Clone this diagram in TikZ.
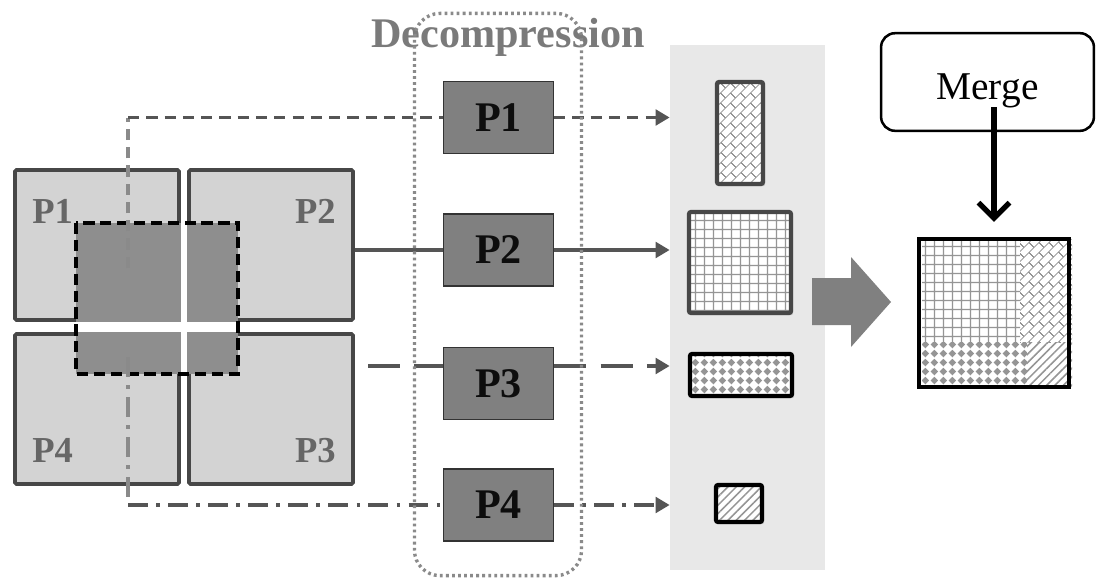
\documentclass[tikz,border=0pt]{standalone}
\usepackage{fontspec}
\setmainfont{Liberation Serif}
\usetikzlibrary{arrows.meta,calc,patterns,patterns.meta,shadows}

\definecolor{quadgray}{HTML}{D3D3D3}
\definecolor{quadline}{HTML}{474747}
\definecolor{overlap}{HTML}{8E8E8E}
\definecolor{partgray}{HTML}{808080}
\definecolor{linegray}{HTML}{555555}
\definecolor{tracegray}{HTML}{8A8A8A}
\definecolor{labelgray}{HTML}{666666}
\definecolor{titlegray}{HTML}{7A7A7A}
\definecolor{bufgray}{HTML}{E8E8E8}
\definecolor{patgray}{HTML}{959595}

\tikzdeclarepattern{
  name=sqgrid,
  type=uncolored,
  bottom left={(0pt,0pt)},
  top right={(6.3pt,6.3pt)},
  tile size={(6.3pt,6.3pt)},
  code={
    \draw[line width=.9pt] (0pt,3.15pt) -- (6.3pt,3.15pt) (3.15pt,0pt) -- (3.15pt,6.3pt);
  }
}
\tikzdeclarepattern{
  name=diagbricks,
  type=uncolored,
  bottom left={(0pt,0pt)},
  top right={(10pt,10pt)},
  tile size={(10pt,10pt)},
  tile transformation={rotate=45},
  code={
    \draw[line width=.6pt] (0pt,2.5pt) -- (10pt,2.5pt) (0pt,7.5pt) -- (10pt,7.5pt)
      (2.5pt,2.5pt) -- (2.5pt,7.5pt) (7.5pt,7.5pt) -- (7.5pt,10pt) (7.5pt,0pt) -- (7.5pt,2.5pt);
  }
}
\tikzdeclarepattern{
  name=stardots,
  type=uncolored,
  bottom left={(0pt,0pt)},
  top right={(6.3pt,6.3pt)},
  tile size={(6.3pt,6.3pt)},
  code={
    \fill (3.15pt,3.15pt) circle (1.7pt);
    \fill (3.15pt,.45pt) -- (5.85pt,3.15pt) -- (3.15pt,5.85pt) -- (.45pt,3.15pt) -- cycle;
  }
}

\tikzstyle{quad} = [draw=quadline, fill=quadgray, line width=2.6pt, rounded corners=1pt, minimum width=4.1cm, minimum height=3.75cm, inner sep=0pt]
\tikzstyle{qlabel} = [text=labelgray, font=\fontsize{26}{26}\selectfont\bfseries, inner sep=0pt]
\tikzstyle{overlapbox} = [draw=black, line width=2.4pt, dash pattern=on 8pt off 4pt]
\tikzstyle{part} = [draw=black!80, fill=partgray, line width=1.1pt, minimum width=2.74cm, minimum height=1.79cm, font=\fontsize{30}{30}\selectfont\bfseries, text=black!95, inner sep=0pt]
\tikzstyle{title} = [text=titlegray, font=\fontsize{30}{30}\selectfont\bfseries, inner sep=0pt]
\tikzstyle{decomp} = [draw=tracegray, line width=2.4pt, dash pattern=on 2pt off 2.3pt, rounded corners=18pt, minimum width=4.175cm, minimum height=14.05cm, inner sep=0pt]
\tikzstyle{buffer} = [fill=bufgray, minimum width=3.875cm, minimum height=13.125cm, inner sep=0pt]
\tikzstyle{patch} = [line width=3pt, rounded corners=1.5pt, inner sep=0pt, pattern color=patgray, drop shadow={shadow xshift=1.5pt, shadow yshift=-1.5pt, opacity=.3}, preaction={fill=white}]
\tikzstyle{flow} = [draw=linegray, line width=2.5pt]
\tikzstyle{trace} = [draw=tracegray, line width=2.3pt]
\tikzstyle{flowtip} = [-{Triangle[length=10pt,width=11pt]}]
\tikzstyle{dashes} = [dash pattern=on 8pt off 5pt]
\tikzstyle{longdashes} = [dash pattern=on 23pt off 10pt]
\tikzstyle{dashdots} = [dash pattern=on 14pt off 6pt on 2.5pt off 6pt]
\tikzstyle{bigarrow} = [fill=partgray]
\tikzstyle{mergebox} = [draw=black, line width=1.8pt, rounded corners=10pt, minimum width=5.32cm, minimum height=2.44cm, font=\fontsize{28}{28}\selectfont, inner sep=0pt]
\tikzstyle{mergearrow} = [draw=black, line width=3.8pt, -{Straight Barb[length=11pt,width=22pt]}]

\begin{document}
\begin{tikzpicture}[x=0.025cm, y=-0.025cm]
\useasboundingbox (0,0) rectangle (1097,580);

\node[quad] (q1) at (97,245) {};
\node[quad] (q2) at (271,245) {};
\node[quad] (q4) at (97,409) {};
\node[quad] (q3) at (271,409) {};
\fill[overlap] (76,223) rectangle (238,374);
\fill[white] (181,223) rectangle (187,374);
\fill[white] (76,322) rectangle (238,332);
\draw[overlapbox] (76,223) rectangle (238,374);
\node[qlabel, anchor=base west] (t1) at (32,223) {P1};
\node[qlabel, anchor=base east] (t2) at (336,223) {P2};
\node[qlabel, anchor=base west] (t4) at (32,462) {P4};
\node[qlabel, anchor=base east] (t3) at (336,462) {P3};

\node[buffer] (buf) at (747.5,307.5) {};

\node[part] (d1) at (498.5,117.5) {P1};
\node[part] (d2) at (498.5,250) {P2};
\node[part] (d3) at (498.5,383.5) {P3};
\node[part] (d4) at (498.5,505) {P4};

\coordinate (s1) at (128,268);
\draw[trace, dashes] (s1) -- (s1 |- d1);
\draw[flow, dashes] (s1 |- d1) -- (d1.west);
\draw[flow, dashes, flowtip] (d1.east) -- (d1 -| buf.west);

\draw[flow] (q2.east |- d2) -- (d2.west);
\draw[flow, flowtip] (d2.east) -- (d2 -| buf.west);

\coordinate (s3) at (368,366);
\draw[flow, longdashes] (s3) -- (s3 -| d3.west);
\draw[flow, longdashes, flowtip] (s3 -| d3.east) -- (s3 -| buf.west);

\coordinate (s4) at (128,357);
\draw[trace, dashdots] (s4) -- (s4 |- d4);
\draw[flow, dashdots] (s4 |- d4) -- (d4.west);
\draw[flow, dashdots, flowtip] (d4.east) -- (d4 -| buf.west);

\node[title, anchor=base] (ttl) at (508,47) {Decompression};
\node[decomp] (dc) at (498,294.5) {};

\node[patch, draw=quadline, pattern=diagbricks, minimum width=1.15cm, minimum height=2.55cm] (r1) at (740,133) {};
\node[patch, draw=quadline, pattern=sqgrid, minimum width=2.55cm, minimum height=2.525cm] (r2) at (740,262.5) {};
\node[patch, draw=black, pattern=stardots, minimum width=2.55cm, minimum height=1.05cm] (r3) at (741,375) {};
\node[patch, draw=black, pattern={Lines[angle=45,distance=4.2pt,line width=1.1pt]}, minimum width=1.15cm, minimum height=.925cm] (r4) at (739,503.5) {};

\fill[bigarrow] (812,278) -- (851,278) -- (851,257) -- (891,302) -- (851,347) -- (851,325) -- (812,325) -- cycle;

\fill[white] (920,237) rectangle (1074,389);
\fill[pattern=sqgrid, pattern color=patgray] (922,239) rectangle (1020,342);
\fill[pattern=diagbricks, pattern color=patgray] (1020,239) rectangle (1072,342);
\fill[pattern=stardots, pattern color=patgray] (922,342) rectangle (1027,387);
\fill[pattern={Lines[angle=45,distance=4.2pt,line width=1.1pt]}, pattern color=patgray] (1027,342) rectangle (1072,387);
\node[draw=black, line width=3.2pt, minimum width=3.74cm, minimum height=3.69cm, inner sep=0pt] (m) at (994,313) {};

\node[mergebox] (mg) at (987.5,82) {\raisebox{-6pt}[\height][\depth]{Merge}};
\draw[mergearrow] ($(m.north |- mg.center)+(0,25)$) -- ($(m.north)+(0,-15)$);
\end{tikzpicture}
\end{document}
